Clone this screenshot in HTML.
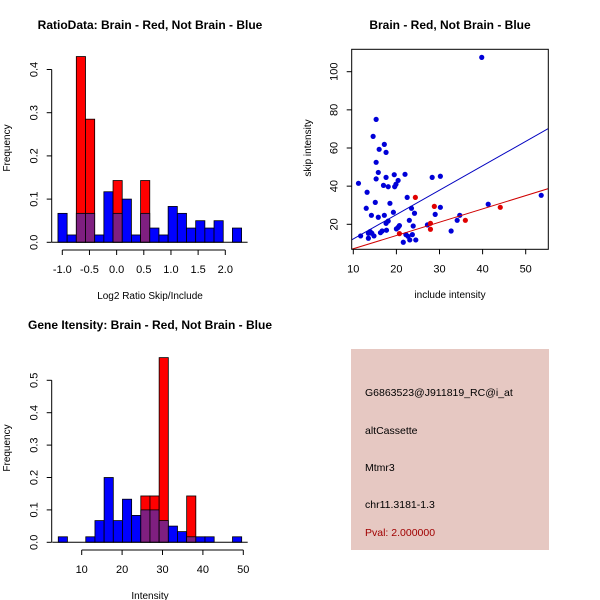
<!DOCTYPE html>
<html><head><meta charset="utf-8"><style>
body{margin:0;background:#fff}
svg{display:block;font-family:"Liberation Sans",sans-serif}
</style></head><body>
<svg id="c" width="600" height="600" xmlns="http://www.w3.org/2000/svg">
<rect width="600" height="600" fill="#fff"/>
<g id="p1"></g>
<g id="p2"></g>
<g id="p3"></g>
<g>
<rect x="351" y="349" width="198" height="201" fill="#e6c8c2"/>
<g font-size="10.5" fill="#000">
<text x="365" y="396">G6863523@J911819_RC@i_at</text>
<text x="365" y="434">altCassette</text>
<text x="365" y="471">Mtmr3</text>
<text x="365" y="508">chr11.3181-1.3</text>
<text x="365" y="536" fill="#a00000">Pval: 2.000000</text>
</g></g>
</svg>
<script>
// Ratio histogram data
const ratioStart = -1.08;
const ratioBinWidth = 0.169;
const ratioBlue = [0.067,0.017,0.067,0.067,0.017,0.117,0.067,0.1,0.017,0.067,0.033,0.017,0.083,0.067,0.033,0.05,0.033,0.05,0,0.033];
const ratioRed  = [0,0,0.43,0.285,0,0,0.143,0,0,0.143,0,0,0,0,0,0,0,0,0,0];
const ratioXTicks = [-1.0,-0.5,0.0,0.5,1.0,1.5,2.0];
const ratioYTicks = [0.0,0.1,0.2,0.3,0.4];
// Gene intensity histogram data
const intStart = 4.2;
const intBinWidth = 2.27;
const intBlue = [0.017,0,0,0.017,0.067,0.2,0.067,0.133,0.083,0.1,0.1,0.067,0.05,0.033,0.017,0.017,0.017,0,0,0.017];
const intRed  = [0,0,0,0,0,0,0,0,0,0.143,0.143,0.57,0,0,0.143,0,0,0,0,0];
const intXTicks = [10,20,30,40,50];
const intYTicks = [0.0,0.1,0.2,0.3,0.4,0.5];
// Scatter data
const blueX = [11.2,11.7,13.2,13,13.5,13.5,13.9,14.2,14.6,14.3,14.8,15.1,15.3,15.3,15.3,15.8,15.8,16,16.3,16.7,17,17.2,17.2,17.6,17.6,17.6,17.7,18.1,18.1,18.5,19.3,19.5,19.6,19.9,20,20.4,20.4,20.7,22,22.5,21.6,22.2,22.7,23,23.1,23.5,23.7,23.9,24.2,24.5,27.2,28.3,29,30.2,30.2,32.7,34.1,34.7,39.8,41.3,53.6];
const blueY = [41.5,13.9,36.8,28.4,15.3,12.7,16.2,24.7,66.1,15.3,13.9,31.5,75,52.5,43.8,47.2,23.7,59.3,15.6,16.5,40.4,61.9,24.7,57.7,44.6,20.5,16.9,39.7,21.7,31,26.3,46,39.7,41,17.6,43,18.4,19.3,46.2,34.1,10.6,14.6,13.7,22.1,11.8,28.4,14.6,19.1,25.8,11.8,19.7,44.6,25.2,45.2,28.9,16.5,22.1,24.7,107.5,30.5,35.2];
const redX = [20.7,24.4,27.9,27.9,28.8,36,44.1];
const redY = [15.1,34.1,20.5,17.4,29.4,22.1,28.9];
const blueFit = [-0.48,1.279];
const redFit = [0.2,0.697];
const scXTicks = [10,20,30,40,50];
const scYTicks = [20,40,60,80,100];

const NS="http://www.w3.org/2000/svg";
function mk(parent,tag,attrs,txt){const e=document.createElementNS(NS,tag);for(const k in attrs)e.setAttribute(k,attrs[k]);if(txt!==undefined)e.textContent=txt;parent.appendChild(e);return e;}

function hist(g,o){
  const sx=v=>o.x0px+(v-o.xv0)*o.kx, sy=v=>o.y0px-v*o.ky;
  mk(g,'text',{x:o.titleX,y:o.titleY,'font-size':12,'font-weight':'bold','text-anchor':'middle'},o.title);
  o.blue.forEach((b,i)=>{const l=o.start+i*o.bw, r=l+o.bw;
    const mx=Math.max(b,o.red[i]); if(mx<=0) return;
    const rc=mk(g,'rect',{x:sx(l),y:sy(mx),width:sx(r)-sx(l),height:sy(0)-sy(mx),fill:o.red[i]>b?'#ff0000':'#0000ff',stroke:'#000','stroke-width':0.8});
    
    
    if(o.red[i]>0&&b>0){const p=mk(g,'rect',{x:sx(l),y:sy(b),width:sx(r)-sx(l),height:sy(0)-sy(b),fill:'#7f1f80',stroke:'#000','stroke-width':0.8});
      
      }
  });
  const baseL=sx(o.start), baseR=sx(o.start+o.blue.length*o.bw);
  mk(g,'line',{x1:baseL-6,x2:baseR+6,y1:sy(0),y2:sy(0),stroke:'#000'});
  mk(g,'line',{x1:o.yAxX,x2:o.yAxX,y1:sy(o.yt[0]),y2:sy(o.yt[o.yt.length-1]),stroke:'#000'});
  o.yt.forEach(t=>{mk(g,'line',{x1:o.yAxX-5,x2:o.yAxX,y1:sy(t),y2:sy(t),stroke:'#000'});
    const lx=o.yAxX-14;
    mk(g,'text',{x:lx,y:sy(t),'font-size':11,'text-anchor':'middle',transform:`rotate(-90 ${lx} ${sy(t)})`},t.toFixed(1));});
  const xa=o.xAxY;
  mk(g,'line',{x1:sx(o.xt[0]),x2:sx(o.xt[o.xt.length-1]),y1:xa,y2:xa,stroke:'#000'});
  o.xt.forEach(t=>{mk(g,'line',{x1:sx(t),x2:sx(t),y1:xa,y2:xa+5,stroke:'#000'});
    mk(g,'text',{x:sx(t),y:xa+23,'font-size':11,'text-anchor':'middle'},o.fmt(t));});
  mk(g,'text',{x:o.xlabX,y:xa+49,'font-size':10,'text-anchor':'middle'},o.xlab);
  mk(g,'text',{x:10,y:o.ylabY,'font-size':10,'text-anchor':'middle',transform:`rotate(-90 10 ${o.ylabY})`},'Frequency');
}
hist(document.getElementById('p1'),{title:'RatioData: Brain - Red, Not Brain - Blue',titleX:150,titleY:29,
  x0px:62.3,xv0:-1,kx:54.33,y0px:242.3,ky:432,start:ratioStart,bw:ratioBinWidth,blue:ratioBlue,red:ratioRed,
  xt:ratioXTicks,yt:ratioYTicks,yAxX:51.7,xAxY:250,fmt:t=>t.toFixed(1),xlab:'Log2 Ratio Skip/Include',xlabX:150,ylabY:148});
hist(document.getElementById('p3'),{title:'Gene Itensity: Brain - Red, Not Brain - Blue',titleX:150,titleY:329,
  x0px:81.7,xv0:10,kx:4.04,y0px:542.3,ky:324,start:intStart,bw:intBinWidth,blue:intBlue,red:intRed,
  xt:intXTicks,yt:intYTicks,yAxX:51.7,xAxY:550,fmt:t=>String(t),xlab:'Intensity',xlabX:150,ylabY:448});

(function(){
  const g=document.getElementById('p2');
  const sx=v=>353.3+(v-10)*4.31, sy=v=>224.3-(v-20)*1.9075;
  mk(g,'text',{x:450,y:29,'font-size':12,'font-weight':'bold','text-anchor':'middle'},'Brain - Red, Not Brain - Blue');
  const L=351.7,R=548.3,T=49.3,B=249.3;
  const cp=mk(g,'clipPath',{id:'scclip'}); mk(cp,'rect',{x:L,y:T,width:R-L,height:B-T});
  const pts=mk(g,'g',{'clip-path':'url(#scclip)'});
  blueX.forEach((x,i)=>{const c=mk(pts,'circle',{cx:sx(x),cy:sy(blueY[i]),r:2.6,fill:'#0000d8'});
    
    });
  redX.forEach((x,i)=>{const c=mk(pts,'circle',{cx:sx(x),cy:sy(redY[i]),r:2.6,fill:'#e00000'});
    
    });
  const x1=5,x2=60;
  const bl=mk(pts,'line',{x1:sx(x1),y1:sy(blueFit[0]+blueFit[1]*x1),x2:sx(x2),y2:sy(blueFit[0]+blueFit[1]*x2),stroke:'#0000c0','stroke-width':1});
  
  
  const rl=mk(pts,'line',{x1:sx(x1),y1:sy(redFit[0]+redFit[1]*x1),x2:sx(x2),y2:sy(redFit[0]+redFit[1]*x2),stroke:'#d00000','stroke-width':1});
  
  
  mk(g,'rect',{x:L,y:T,width:R-L,height:B-T,fill:'none',stroke:'#000'});
  scXTicks.forEach(t=>{mk(g,'line',{x1:sx(t),x2:sx(t),y1:B,y2:B+5,stroke:'#000'});
    mk(g,'text',{x:sx(t),y:B+23,'font-size':11,'text-anchor':'middle'},t);});
  scYTicks.forEach(t=>{mk(g,'line',{x1:L-5,x2:L,y1:sy(t),y2:sy(t),stroke:'#000'});
    const lx=L-14;
    mk(g,'text',{x:lx,y:sy(t),'font-size':11,'text-anchor':'middle',transform:`rotate(-90 ${lx} ${sy(t)})`},t);});
  mk(g,'text',{x:450,y:298,'font-size':10,'text-anchor':'middle'},'include intensity');
  mk(g,'text',{x:311,y:148,'font-size':10,'text-anchor':'middle',transform:'rotate(-90 311 148)'},'skip intensity');
})();
</script>
</body></html>
